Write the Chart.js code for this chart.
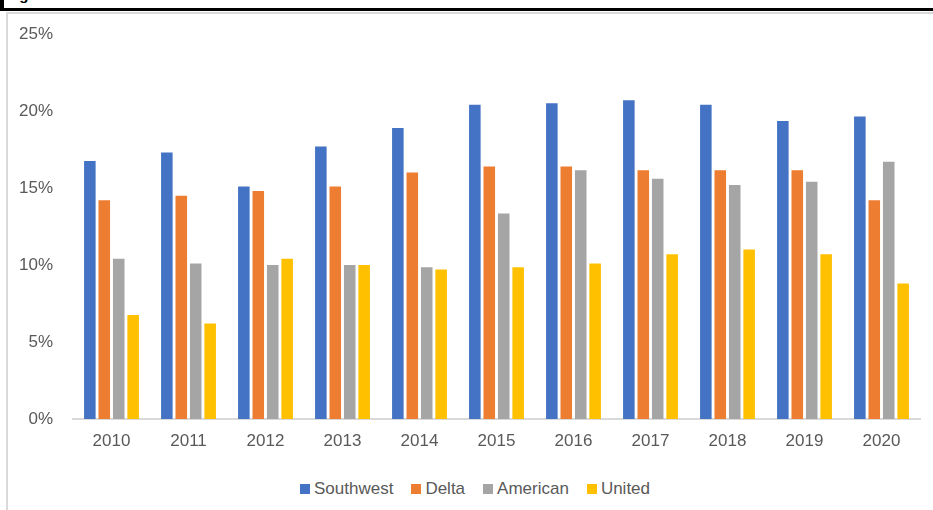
<!DOCTYPE html>
<html>
<head>
<meta charset="utf-8">
<script src="https://cdn.jsdelivr.net/npm/chart.js@4.4.1/dist/chart.umd.min.js"></script>
<style>
  html, body { margin: 0; padding: 0; background: #fff; }
  body { width: 933px; height: 510px; position: relative; overflow: hidden; font-family: "Liberation Sans", Arial, sans-serif; }
  /* cropped title strip at the very top */
  #title-strip {
    position: absolute; left: 0; top: 0; width: 929px; height: 8px;
    border-left: 4px solid #000; border-bottom: 3px solid #000;
    overflow: hidden;
  }
  #title-strip span {
    position: absolute; left: 2px; top: -13px;
    font: bold 15px/15px "Liberation Sans", Arial, sans-serif; color: #000;
  }
  #frame {
    position: absolute; left: 6px; top: 12px; width: 927px; height: 498px;
    border-left: 2px solid #d9d9d9; border-top: 2px solid #d9d9d9;
  }
  #chart-wrap { position: absolute; left: 0; top: 0; width: 925px; height: 460px; }
  #legend {
    position: absolute; left: 292px; top: 465px;
    display: flex; align-items: center; gap: 18px;
    font-size: 17px; color: #595959;
  }
  .legend-item { display: flex; align-items: center; gap: 4px; }
  .legend-box { width: 10px; height: 10px; display: inline-block; }
</style>
</head>
<body>
<div id="title-strip"><span>Figure 1</span></div>
<div id="frame">
  <div id="chart-wrap"><canvas id="chart"></canvas></div>
  <div id="legend"></div>
</div>

<script>
// Data (percent)
const years = ['2010', '2011', '2012', '2013', '2014', '2015', '2016', '2017', '2018', '2019', '2020'];
const southwest = [16.75, 17.3, 15.1, 17.7, 18.9, 20.4, 20.5, 20.7, 20.4, 19.35, 19.65];
const delta     = [14.2, 14.5, 14.8, 15.1, 16.0, 16.4, 16.4, 16.15, 16.15, 16.15, 14.2];
const american  = [10.4, 10.1, 10.0, 10.0, 9.85, 13.35, 16.15, 15.6, 15.2, 15.4, 16.7];
const united    = [6.75, 6.2, 10.4, 10.0, 9.7, 9.85, 10.1, 10.7, 11.0, 10.7, 8.8];
const yTicks    = [0, 5, 10, 15, 20, 25];

const seriesNames  = ['Southwest', 'Delta', 'American', 'United'];
const seriesColors = ['#4472C4', '#ED7D31', '#A5A5A5', '#FFC000'];
const seriesData   = [southwest, delta, american, united];

const textColor = '#595959';
const font = { family: '"Liberation Sans", Arial, sans-serif', size: 17 };

const datasets = seriesNames.map((name, i) => ({
  label: name,
  data: seriesData[i],
  backgroundColor: seriesColors[i],
  borderWidth: 0,
  barPercentage: 0.8,
  categoryPercentage: 0.75
}));

new Chart(document.getElementById('chart'), {
  type: 'bar',
  data: { labels: years, datasets: datasets },
  options: {
    responsive: true,
    maintainAspectRatio: false,
    animation: false,
    layout: { padding: { left: 0, top: 20, right: 13, bottom: 0 } },
    plugins: {
      legend: { display: false },
      tooltip: { enabled: false }
    },
    scales: {
      x: {
        grid: { display: false, drawTicks: false },
        border: { display: true, color: '#d9d9d9', width: 2 },
        ticks: { color: textColor, font: font, padding: 12 },
        afterFit: scale => { scale.height = 55; }
      },
      y: {
        min: 0,
        max: 25,
        grid: { display: false, drawTicks: false },
        border: { display: false },
        afterBuildTicks: scale => { scale.ticks = yTicks.map(v => ({ value: v })); },
        ticks: {
          color: textColor,
          font: font,
          padding: 20,
          callback: v => v + '%'
        },
        afterFit: scale => {
          scale.width = 65;
          // tick padding is meant horizontally only
          scale.paddingTop = 10;
          scale.paddingBottom = 10;
        }
      }
    }
  }
});

// HTML legend built from the same series arrays
const legend = document.getElementById('legend');
seriesNames.forEach((name, i) => {
  const item = document.createElement('span');
  item.className = 'legend-item';
  item.innerHTML = `<span class="legend-box" style="background:${seriesColors[i]}"></span>${name}`;
  legend.appendChild(item);
});
</script>
</body>
</html>
